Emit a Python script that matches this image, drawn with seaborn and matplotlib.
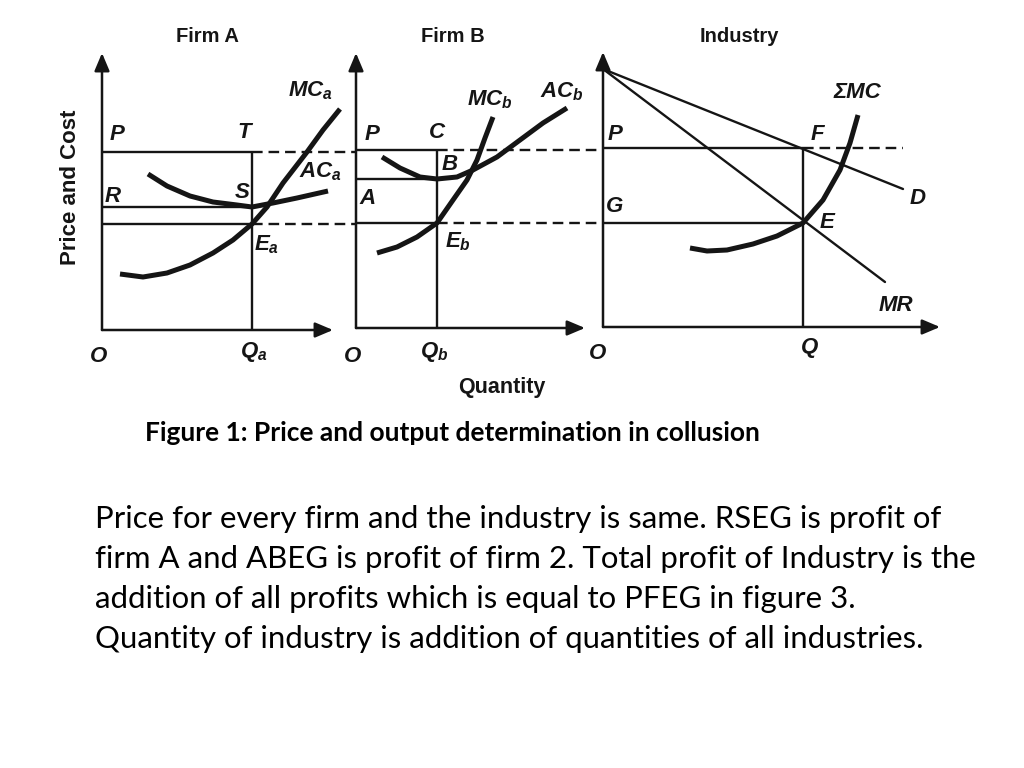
import matplotlib
matplotlib.use('Agg')
import matplotlib.pyplot as plt
import seaborn as sns

# ---- data (panel units: quantity, price) ----
# Firm A
a_mc_q = [1.8, 4.1, 6.5, 8.8, 11.1, 13.1, 15.0, 16.5, 18.1, 20.5, 22.1, 23.8]
a_mc_p = [5.6, 5.3, 5.7, 6.5, 7.7, 9.0, 10.6, 12.3, 14.7, 17.8, 20.0, 22.1]
a_ac_q = [4.6, 6.5, 8.8, 11.1, 13.5, 15.0, 17.1, 19.5, 22.6]
a_ac_p = [15.6, 14.4, 13.4, 12.8, 12.5, 12.3, 12.7, 13.2, 13.9]
a_price, a_cost, a_mc_level, a_qty = 17.8, 12.3, 10.6, 15.0

# Firm B
b_ac_q = [2.6, 4.4, 6.4, 8.1, 10.1, 11.7, 14.1, 16.4, 18.7, 21.1]
b_ac_p = [17.1, 16.0, 15.1, 14.9, 15.1, 15.8, 17.1, 18.8, 20.5, 22.0]
b_mc_q = [2.1, 4.1, 6.1, 8.1, 9.7, 11.1, 12.1, 12.9, 13.7]
b_mc_p = [7.5, 8.1, 9.1, 10.5, 12.8, 14.8, 16.8, 19.0, 21.1]
b_price, b_cost, b_mc_level, b_qty = 17.8, 14.9, 10.5, 8.1

# Industry
i_smc_q = [8.7, 10.4, 12.4, 15.0, 17.4, 20.0, 22.0, 23.7, 24.7, 25.5]
i_smc_p = [7.9, 7.6, 7.7, 8.3, 9.1, 10.4, 12.7, 15.7, 18.4, 21.2]
i_d_q, i_d_p = [0.0, 30.0], [25.8, 13.8]
i_mr_q, i_mr_p = [0.0, 28.2], [25.8, 4.5]
i_price, i_mc_level, i_qty = 17.9, 10.4, 20.0

INK = '#151515'
W, H = 1024, 768

sns.set_theme(style='white')
plt.rcParams['font.family'] = ['Liberation Sans', 'DejaVu Sans']
plt.rcParams['mathtext.fontset'] = 'custom'
plt.rcParams['mathtext.it'] = 'Liberation Sans:italic:bold'
plt.rcParams['mathtext.rm'] = 'Liberation Sans:italic:bold'
plt.rcParams['mathtext.bf'] = 'Liberation Sans:italic:bold'

fig = plt.figure(figsize=(10.24, 7.68), dpi=100)
fig.patch.set_facecolor('white')


def panel(x0, y0, w, h=290):
    ax = fig.add_axes([x0 / W, (H - y0) / H, w / W, h / H])
    ax.set_xlim(0, w / 10)
    ax.set_ylim(0, h / 10)
    ax.axis('off')
    return ax


def axes_arrows(ax, xend, yend):
    style = dict(arrowstyle='-|>,head_length=0.9,head_width=0.38', color=INK,
                 lw=1.8, shrinkA=0, shrinkB=0)
    ax.annotate('', xy=(xend, 0), xytext=(0, 0), arrowprops=style, annotation_clip=False)
    ax.annotate('', xy=(0, yend), xytext=(0, 0), arrowprops=style, annotation_clip=False)


def curve(ax, q, p, lw=3.6):
    sns.lineplot(x=q, y=p, ax=ax, color=INK, lw=lw, sort=False, estimator=None,
                 solid_capstyle='butt')
    for l in ax.lines:
        l.set_clip_on(False)


def lab(px, py, s, size=16, **kw):
    kw.setdefault('style', 'italic')
    kw.setdefault('fontweight', 'bold')
    fig.text(px / W, 1 - py / H, s, ha='center', va='center', fontsize=size,
             color=INK, **kw)


thin = dict(color=INK, lw=1.7, clip_on=False)
dash = dict(color=INK, lw=1.7, ls=(0, (4.5, 2.5)), clip_on=False)

# ---- Firm A ----
ax_a = panel(102, 330, 240)
axes_arrows(ax_a, 23.1, 27.7)
ax_a.hlines([a_price, a_cost, a_mc_level], 0, a_qty, **thin)
ax_a.vlines(a_qty, 0, a_price, **thin)
ax_a.hlines([a_price, a_mc_level], a_qty, 25.4, **dash)
curve(ax_a, a_ac_q, a_ac_p)
curve(ax_a, a_mc_q, a_mc_p)

# ---- Firm B ----
ax_b = panel(356, 328, 240)
axes_arrows(ax_b, 22.9, 27.5)
ax_b.hlines([b_price, b_cost, b_mc_level], 0, b_qty, **thin)
ax_b.vlines(b_qty, 0, b_price, **thin)
ax_b.hlines([b_price, b_mc_level], b_qty, 24.7, **dash)
curve(ax_b, b_ac_q, b_ac_p)
curve(ax_b, b_mc_q, b_mc_p)

# ---- Industry ----
ax_i = panel(603, 327, 350)
axes_arrows(ax_i, 33.7, 27.5)
ax_i.hlines([i_price, i_mc_level], 0, i_qty, **thin)
ax_i.vlines(i_qty, 0, i_price, **thin)
ax_i.hlines(i_price, i_qty, 30.0, **dash)
sns.lineplot(x=i_d_q, y=i_d_p, ax=ax_i, color=INK, lw=1.7, sort=False, estimator=None)
sns.lineplot(x=i_mr_q, y=i_mr_p, ax=ax_i, color=INK, lw=1.7, sort=False, estimator=None)
curve(ax_i, i_smc_q, i_smc_p)

# ---- labels ----
lab(207, 37, 'Firm A', 14.5, style='normal')
lab(453, 37, 'Firm B', 14.5, style='normal')
lab(739, 36, 'Industry', 14.5, style='normal')
lab(71, 187, 'Price and Cost', 16, style='normal', rotation=90)
lab(502, 388, 'Quantity', 15.5, style='normal')

lab(117, 135, 'P'); lab(244, 133, 'T'); lab(113, 196, 'R'); lab(242, 192, 'S')
lab(320, 172, r'$AC_a$'); lab(310, 91, r'$MC_a$'); lab(267, 245, r'$E_a$')
lab(99, 356, 'O'); lab(254, 352, r'$Q_a$')

lab(372, 135, 'P'); lab(437, 133, 'C'); lab(450, 164, 'B'); lab(368, 199, 'A')
lab(458, 242, r'$E_b$'); lab(490, 100, r'$MC_b$'); lab(562, 92, r'$AC_b$')
lab(353, 356, 'O'); lab(434, 352, r'$Q_b$')

lab(615, 135, 'P'); lab(615, 206, 'G'); lab(817, 134, 'F'); lab(827, 222, 'E')
lab(918, 199, 'D'); lab(896, 305, 'MR'); lab(857, 92, 'ΣMC')
lab(598, 353, 'O'); lab(810, 348, 'Q')

# ---- caption and text ----
fig.text(145 / W, 1 - 433 / H, 'Figure 1: Price and output determination in collusion',
         ha='left', va='center', fontsize=19, fontweight='bold', family='Lato', color='black')

para = [
    'Price for every firm and the industry is same. RSEG is profit of',
    'firm A and ABEG is profit of firm 2. Total profit of Industry is the',
    'addition of all profits which is equal to PFEG in figure 3.',
    'Quantity of industry is addition of quantities of all industries.',
]
for k, line in enumerate(para):
    fig.text(95 / W, 1 - (528 + 40 * k) / H, line, ha='left', va='baseline',
             fontsize=22.4, family='Lato', color='black')

fig.savefig('out.png', dpi=100, facecolor='white')
